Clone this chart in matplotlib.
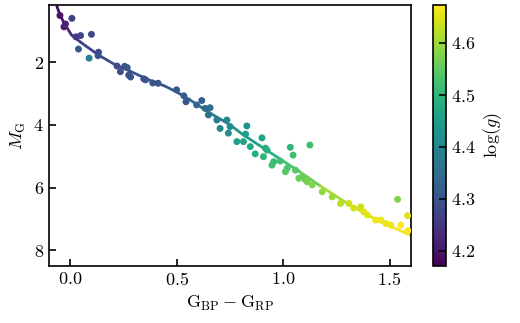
import numpy as np
import matplotlib
matplotlib.use("Agg")
import matplotlib.pyplot as plt
from matplotlib.collections import LineCollection

plt.rcParams["font.family"] = "serif"
plt.rcParams["font.serif"] = ["cmr10"]
plt.rcParams["mathtext.fontset"] = "cm"
plt.rcParams["axes.formatter.use_mathtext"] = True
plt.rcParams["font.size"] = 13

# observed stars
bp_rp = [-0.048, -0.029, -0.022, 0.008, 0.027, 0.049, 0.100, 0.039, 0.089, 0.133,
         0.131, 0.220, 0.256, 0.268, 0.236, 0.275, 0.284, 0.346, 0.354, 0.388,
         0.413, 0.500, 0.534, 0.544, 0.618, 0.594, 0.634, 0.657, 0.649, 0.689,
         0.736, 0.704, 0.751, 0.743, 0.830, 0.824, 0.901, 0.783, 0.814, 0.846,
         0.917, 0.925, 1.034, 1.047, 1.126, 0.869, 0.908, 0.956, 0.987, 0.948,
         1.019, 1.058, 1.011, 1.074, 1.105, 1.137, 1.090, 1.113, 1.184, 1.231,
         1.270, 1.309, 1.365, 1.332, 1.379, 1.396, 1.435, 1.459, 1.483, 1.506,
         1.538, 1.553, 1.585, 1.586]
mag_g = [0.51, 0.87, 0.78, 0.60, 1.19, 1.15, 1.11, 1.58, 1.87, 1.68,
         1.79, 2.12, 2.13, 2.17, 2.30, 2.41, 2.47, 2.53, 2.56, 2.66,
         2.67, 2.88, 3.07, 3.26, 3.22, 3.36, 3.47, 3.45, 3.68, 3.84,
         3.84, 4.11, 4.05, 4.26, 4.03, 4.29, 4.41, 4.53, 4.53, 4.69,
         4.74, 4.80, 4.71, 4.96, 4.64, 4.92, 5.01, 5.17, 5.15, 5.28,
         5.38, 5.44, 5.49, 5.70, 5.75, 5.91, 5.65, 5.81, 6.13, 6.29,
         6.50, 6.50, 6.61, 6.65, 6.77, 6.87, 7.03, 7.03, 7.14, 7.19,
         6.37, 7.19, 6.89, 7.37]
logg = [4.20, 4.21, 4.22, 4.26, 4.25, 4.27, 4.28, 4.31, 4.38, 4.28,
        4.29, 4.28, 4.29, 4.30, 4.29, 4.29, 4.30, 4.29, 4.30, 4.30,
        4.30, 4.31, 4.32, 4.31, 4.32, 4.33, 4.34, 4.35, 4.36, 4.38,
        4.40, 4.40, 4.41, 4.42, 4.43, 4.45, 4.46, 4.45, 4.46, 4.47,
        4.48, 4.49, 4.50, 4.52, 4.52, 4.49, 4.50, 4.51, 4.52, 4.52,
        4.53, 4.54, 4.54, 4.56, 4.57, 4.58, 4.56, 4.57, 4.59, 4.60,
        4.62, 4.63, 4.63, 4.64, 4.65, 4.65, 4.66, 4.66, 4.66, 4.66,
        4.58, 4.67, 4.65, 4.67]

# isochrone
iso_x = [-0.066, -0.062, -0.055, -0.032, 0.006, 0.053, 0.133, 0.214, 0.280,
         0.369, 0.445, 0.501, 0.563, 0.657, 0.752, 0.808, 0.893, 0.987,
         1.081, 1.176, 1.299, 1.450, 1.600]
iso_y = [0.10, 0.22, 0.36, 0.71, 1.13, 1.38, 1.77, 2.09, 2.28,
         2.56, 2.76, 2.95, 3.20, 3.62, 4.00, 4.29, 4.67, 5.09,
         5.50, 5.95, 6.49, 7.06, 7.52]
iso_g = [4.67, 4.18, 4.19, 4.21, 4.24, 4.26, 4.28, 4.29, 4.30,
         4.30, 4.31, 4.31, 4.33, 4.36, 4.41, 4.44, 4.47, 4.51,
         4.54, 4.58, 4.63, 4.66, 4.67]

vmin, vmax = 4.17, 4.673
norm = plt.Normalize(vmin, vmax)

fig = plt.figure(figsize=(5.2, 3.23), dpi=100)
ax = fig.add_axes([0.094, 0.176, 0.696, 0.809])
cax = fig.add_axes([0.833, 0.176, 0.025, 0.809])

pts = np.column_stack([iso_x, iso_y]).reshape(-1, 1, 2)
segs = np.concatenate([pts[:-1], pts[1:]], axis=1)
seg_g = 0.5 * (np.array(iso_g[:-1]) + np.array(iso_g[1:]))
seg_g[0] = iso_g[0]
lc = LineCollection(segs, cmap="viridis", norm=norm, linewidth=2,
                    capstyle="round", joinstyle="round")
lc.set_array(seg_g)
ax.add_collection(lc)

sc = ax.scatter(bp_rp, mag_g, c=logg, cmap="viridis", norm=norm, s=25,
                linewidths=0, zorder=3)

ax.set_xlim(-0.1, 1.6)
ax.set_ylim(8.5, 0.17)
ax.set_xticks([0.0, 0.5, 1.0, 1.5])
ax.set_yticks([2, 4, 6, 8])
ax.tick_params(direction="in", length=5, width=1.2)
for s in ax.spines.values():
    s.set_linewidth(1.2)
ax.set_xlabel(r"$\mathrm{G}_\mathrm{BP} - \mathrm{G}_\mathrm{RP}$")
ax.set_ylabel(r"$M_\mathrm{G}$")

cb = fig.colorbar(sc, cax=cax)
cb.set_ticks([4.2, 4.3, 4.4, 4.5, 4.6])
cb.ax.tick_params(direction="in", length=5, width=1.2)
cb.outline.set_linewidth(1.2)
cb.set_label(r"$\log(g)$")

fig.savefig("out.png", dpi=100)
